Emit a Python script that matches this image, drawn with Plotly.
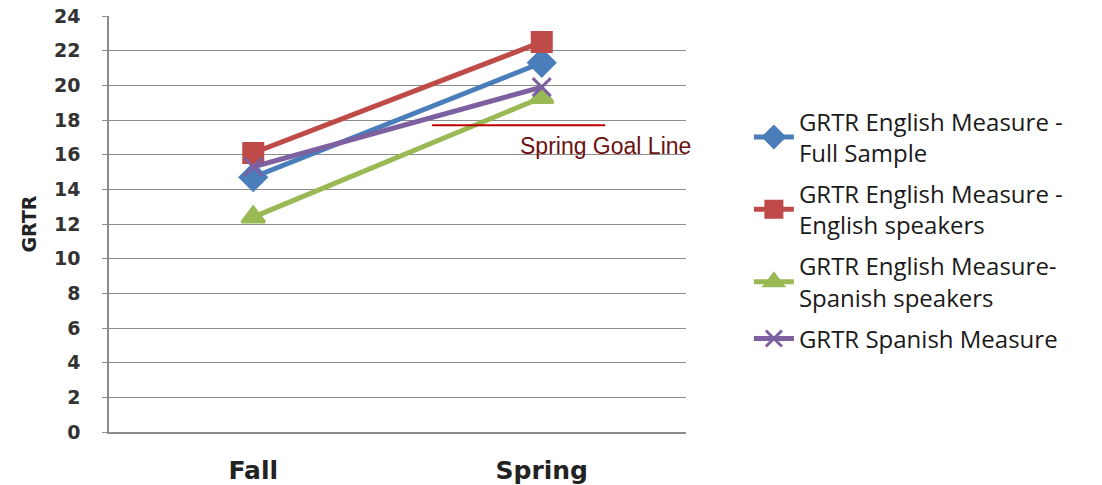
import plotly.graph_objects as go

categories = ["Fall", "Spring"]
series_names = [
    "GRTR English Measure -<br>Full Sample",
    "GRTR English Measure -<br>English speakers",
    "GRTR English Measure-<br>Spanish speakers",
    "GRTR Spanish Measure",
]
full_sample = [14.7, 21.3]
english_speakers = [16.1, 22.5]
spanish_speakers = [12.4, 19.3]
spanish_measure = [15.3, 19.9]
goal_value = 17.7
goal_label = "Spring Goal Line"
y_ticks = list(range(0, 25, 2))

colors = ["#4A7EBB", "#BE4B48", "#98B954", "#7D60A0"]
symbols = ["diamond", "square", "triangle-up", "x-thin-open"]
sizes = [20, 19, 20, 18]
values = [full_sample, english_speakers, spanish_speakers, spanish_measure]

fig = go.Figure()
for i, (name, vals) in enumerate(zip(series_names, values)):
    fig.add_trace(go.Scatter(
        x=categories, y=vals, name=name, mode="lines+markers",
        line=dict(color=colors[i], width=5),
        marker=dict(symbol=symbols[i], size=sizes[i], color=colors[i],
                    line=dict(color=colors[i], width=3)),
        legendgroup=f"g{i}",
    ))

fig.add_shape(type="line", xref="x", yref="y", x0=0.62, x1=1.22,
              y0=goal_value, y1=goal_value,
              line=dict(color="#C00000", width=2))
fig.add_annotation(x=1.22, y=goal_value - 1.2, xref="x", yref="y",
                   text=goal_label, showarrow=False,
                   font=dict(family="Liberation Sans, Arial", size=23, color="#6B1111"))

fig.update_layout(
    width=1102, height=485,
    margin=dict(l=109, r=416, t=16, b=53),
    plot_bgcolor="white", paper_bgcolor="white",
    showlegend=True,
    legend=dict(x=1.109, y=0.80, xanchor="left", yanchor="top",
                font=dict(family="Open Sans, DejaVu Sans", size=24, color="#1a1a1a"),
                tracegroupgap=7, itemwidth=40, bgcolor="rgba(0,0,0,0)"),
    xaxis=dict(range=[-0.5, 1.5], showgrid=False, showline=True, automargin=False,
               linecolor="#8C8C8C", linewidth=1.5, ticks="",
               tickfont=dict(family="DejaVu Sans", size=25, color="#222222", weight="bold"),
               ticklabelstandoff=15),
    yaxis=dict(range=[0, 24], tickvals=y_ticks, showgrid=True, automargin=False,
               gridcolor="#8C8C8C", gridwidth=1.3, showline=True,
               linecolor="#8C8C8C", linewidth=1.5, ticks="outside", ticklen=5,
               tickcolor="#8C8C8C", ticklabelstandoff=18, zeroline=False,
               tickfont=dict(family="DejaVu Sans", size=19, color="#333333", weight="bold"),
               title=dict(text="GRTR", standoff=12,
                          font=dict(family="DejaVu Sans", size=19, color="#222222", weight="bold"))),
)

fig.write_html("out.html")
